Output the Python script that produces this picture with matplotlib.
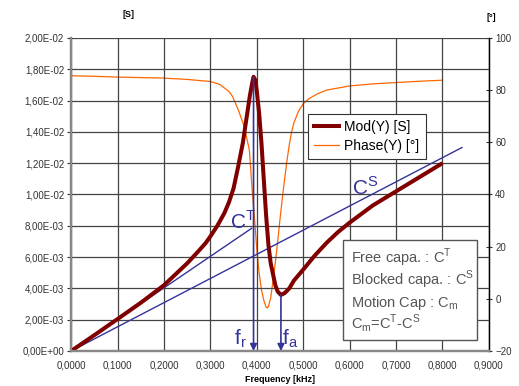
import numpy as np
import matplotlib
matplotlib.use("Agg")
import matplotlib.pyplot as plt
from matplotlib.lines import Line2D
from matplotlib.patches import Rectangle

plt.rcParams['font.family'] = ['Liberation Sans', 'DejaVu Sans']

# Mod(Y) [S] vs frequency [kHz]
freq_mod = [0, 0.05, 0.1, 0.15, 0.2, 0.25, 0.275, 0.29, 0.3, 0.315, 0.33,
            0.34, 0.35, 0.36, 0.37, 0.38, 0.385, 0.39, 0.393, 0.397, 0.40,
            0.405, 0.41, 0.415, 0.42, 0.425, 0.43, 0.435, 0.44, 0.445, 0.452,
            0.46, 0.47, 0.48, 0.5, 0.525, 0.55, 0.575, 0.6, 0.625, 0.65,
            0.675, 0.7, 0.75, 0.8]
mod_y = [0, 0.00101, 0.00204, 0.00308, 0.00420, 0.0056, 0.0064, 0.0069,
         0.00732, 0.0080, 0.0088, 0.0095, 0.0104, 0.0118, 0.0133, 0.0153,
         0.0163, 0.0171, 0.01752, 0.0173, 0.0166, 0.0152, 0.0133, 0.0110,
         0.0087, 0.0068, 0.0056, 0.0049, 0.0042, 0.0038, 0.00358, 0.0037,
         0.0040, 0.0045, 0.0052, 0.0061, 0.0069, 0.0076, 0.0082, 0.00875,
         0.0093, 0.00975, 0.0102, 0.0111, 0.0120]

# Phase(Y) [deg]
freq_ph = [0, 0.001, 0.05, 0.1, 0.2, 0.25, 0.3, 0.32, 0.34, 0.348, 0.36,
           0.373, 0.384, 0.39, 0.395, 0.40, 0.405, 0.41, 0.415, 0.42, 0.4225,
           0.425, 0.43, 0.435, 0.44, 0.445, 0.45, 0.455, 0.46, 0.465, 0.47,
           0.475, 0.48, 0.49, 0.5, 0.513, 0.53, 0.55, 0.6, 0.65, 0.7, 0.75,
           0.8]
phase_y = [90, 85.5, 85.3, 85.0, 84.6, 84.1, 83.3, 82.2, 79.5, 77.5, 72.5,
           66, 57, 42, 31, 19, 10, 3.5, -0.5, -3.2, -3.5, -3, 0.5, 7, 14, 22,
           30.5, 38.5, 46, 53, 59, 64, 67.5, 72, 74.8, 76.8, 78.5, 80, 81.6,
           82.4, 82.9, 83.4, 83.8]

# capacitance lines
ct_freq = [0, 0.389]
ct_y = [0, 0.00784]
cs_freq = [0, 0.842]
cs_y = [0, 0.0130]

left_ticks = [i * 0.002 for i in range(11)]
right_ticks = [-20, 0, 20, 40, 60, 80, 100]
x_ticks = [i * 0.1 for i in range(10)]

box_lines = ["Free capa. : C$^\\mathregular{T}$",
             "Blocked capa. : C$^\\mathregular{S}$",
             "Motion Cap : C$_\\mathregular{m}$",
             "C$_\\mathregular{m}$=C$^\\mathregular{T}$-C$^\\mathregular{S}$"]

blue = "#333399"
dark_red = "#800000"
orange = "#FF6600"

fig = plt.figure(figsize=(5.19, 3.86), dpi=100)
ax = fig.add_axes([0.137, 0.0907, 0.805, 0.811])
ax2 = ax.twinx()
ax.set_zorder(ax2.get_zorder() + 1)
ax.patch.set_visible(False)

ax2.plot(freq_ph, phase_y, color=orange, lw=0.9)
ax2.set_ylim(-20, 100)
ax2.set_yticks(right_ticks)
ax2.tick_params(axis='y', direction='inout', length=5, width=0.8,
                labelsize=7, colors='#333333', pad=2)

ax.plot(ct_freq, ct_y, color=blue, lw=1.0)
ax.plot(cs_freq, cs_y, color=blue, lw=1.0)
ax.plot(freq_mod, mod_y, color=dark_red, lw=2.9, solid_capstyle='butt',
        solid_joinstyle='round')

# resonance / anti-resonance arrows
i_r = int(np.argmax(mod_y))
i_a = i_r + int(np.argmin(mod_y[i_r:]))
for i in (i_r, i_a):
    ax.annotate("", xy=(freq_mod[i], 0), xytext=(freq_mod[i], mod_y[i]),
                arrowprops=dict(arrowstyle='-|>', color=blue, lw=1.2,
                                mutation_scale=10, shrinkA=0, shrinkB=0))

ax.text(0.343, 0.0078, "C$^\\mathregular{T}$", color=blue, fontsize=15)
ax.text(0.606, 0.0100, "C$^\\mathregular{S}$", color=blue, fontsize=15)
ax.text(0.350, 0.0004, "f$_\\mathregular{r}$", color=blue, fontsize=15)
ax.text(0.454, 0.0004, "f$_\\mathregular{a}$", color=blue, fontsize=15)

# info box
ax.add_patch(Rectangle((0.585, 0.0007), 0.289, 0.0064, fc='white',
                       ec='#555555', lw=1, zorder=4))
for k, line in enumerate(box_lines):
    ax.text(0.603, 0.0056 - k * 0.00138, line, fontsize=10.5,
            color='#555555', va='baseline', zorder=5)

ax.set_xlim(0, 0.9)
ax.set_ylim(0, 0.02)
ax.set_xticks(x_ticks)
ax.set_xticklabels([f"{v:.4f}".replace('.', ',') for v in x_ticks])
ax.set_yticks(left_ticks)
ax.set_yticklabels([f"{v:.2E}".replace('.', ',') for v in left_ticks])
ax.tick_params(axis='y', direction='out', length=3, width=0.8,
               labelsize=7, colors='#333333', pad=2)
ax.tick_params(axis='x', length=0, labelsize=7, colors='#333333', pad=7)
ax.grid(True, color='#444444', lw=0.9)

for a in (ax, ax2):
    a.spines['top'].set_visible(False)
    a.spines['left'].set_color('#888888')
    a.spines['left'].set_linewidth(1.6)
    a.spines['bottom'].set_color('#888888')
    a.spines['bottom'].set_linewidth(1.6)
    a.spines['right'].set_color('#000000')
    a.spines['right'].set_linewidth(0.9)

ax.set_xlabel("Frequency [kHz]", fontsize=6.5, fontweight='bold', labelpad=3)
fig.text(0.247, 0.955, "[S]", fontsize=6.5, fontweight='bold', ha='center')
fig.text(0.946, 0.948, "[°]", fontsize=6.5, fontweight='bold', ha='center')

handles = [Line2D([], [], color=dark_red, lw=2.9),
           Line2D([], [], color=orange, lw=0.9)]
leg = ax.legend(handles, ["Mod(Y) [S]", "Phase(Y) [°]"], loc='upper left',
                bbox_to_anchor=(0.566, 0.757), fontsize=10, fancybox=False,
                framealpha=1, edgecolor='#333333', handlelength=1.8,
                borderpad=0.45, labelspacing=0.35, handletextpad=0.4,
                borderaxespad=0)
leg.get_frame().set_linewidth(0.8)

fig.savefig("out.png", dpi=100)
